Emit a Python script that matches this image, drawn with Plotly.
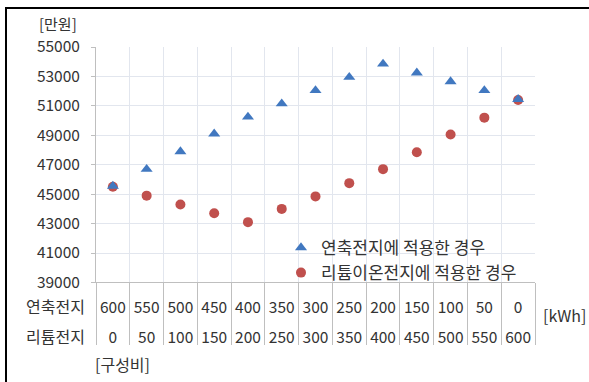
import plotly.graph_objects as go

# Capacity split between the two battery types [kWh]
lead_kwh = [600, 550, 500, 450, 400, 350, 300, 250, 200, 150, 100, 50, 0]
lithium_kwh = [0, 50, 100, 150, 200, 250, 300, 350, 400, 450, 500, 550, 600]

# Cost [만원]
lead_case_cost = [45550, 46700, 47900, 49100, 50250, 51150, 52050, 52950, 53850, 53250, 52650, 52050, 51450]
lithium_case_cost = [45500, 44900, 44300, 43700, 43100, 44000, 44850, 45750, 46700, 47850, 49050, 50200, 51400]

y_ticks = [39000, 41000, 43000, 45000, 47000, 49000, 51000, 53000, 55000]

lead_name = "연축전지에 적용한 경우"
lithium_name = "리튬이온전지에 적용한 경우"

W, H = 589, 382
ML, MR, MT, MB = 96, 54, 47, 0
PW, PH = W - ML - MR, H - MT - MB


def px_x(px):
    return (px - ML) / PW


def px_y(py):
    return (H - MB - py) / PH


FONT = "Noto Sans CJK KR, Noto Sans, sans-serif"
TXT = "#333333"
GRID = "#e2e6ee"
AXIS = "#bfbfbf"

n = len(lead_kwh)
pos = list(range(n))
x_range = [-0.5, n - 0.5]
bounds = [i - 0.5 for i in range(n + 1)]

fig = go.Figure()

fig.add_trace(go.Scatter(
    x=pos, y=lithium_case_cost, mode="markers", name=lithium_name,
    marker=dict(symbol="circle", size=10, color="#c0504d"),
    legendrank=2,
))
fig.add_trace(go.Scatter(
    x=pos, y=lead_case_cost, mode="markers", name=lead_name,
    marker=dict(symbol="triangle-up", size=10.5, color="#4178c0"),
    legendrank=1,
))
# carriers for the two label rows under the chart
for ax in ("x2", "x3"):
    fig.add_trace(go.Scatter(x=[0], y=[None], xaxis=ax, yaxis="y", mode="markers",
                             showlegend=False, hoverinfo="skip"))

y_bottom = px_y(289)

fig.update_layout(
    width=W, height=H,
    margin=dict(l=ML, r=MR, t=MT, b=MB),
    paper_bgcolor="white", plot_bgcolor="white",
    font=dict(family=FONT, size=15, color=TXT),
    showlegend=True,
    legend=dict(x=px_x(281), y=px_y(235), xanchor="left", yanchor="top",
                bgcolor="rgba(0,0,0,0)", font=dict(size=17, color=TXT),
                itemwidth=30, tracegroupgap=0),
    xaxis=dict(
        domain=[0, 1], range=x_range, tickmode="array", tickvals=bounds,
        showticklabels=False, showgrid=True, gridcolor=GRID, gridwidth=1,
        ticks="outside", ticklen=62, tickcolor=AXIS, tickwidth=1,
        showline=True, linecolor=AXIS, linewidth=1, zeroline=False,
    ),
    xaxis2=dict(
        overlaying="x", anchor="free", position=px_y(303), range=x_range,
        tickmode="array", tickvals=pos, ticktext=[str(v) for v in lead_kwh],
        showgrid=False, showline=False, zeroline=False, ticks="",
        tickfont=dict(size=15.5, color=TXT),
    ),
    xaxis3=dict(
        overlaying="x", anchor="free", position=px_y(334), range=x_range,
        tickmode="array", tickvals=pos, ticktext=[str(v) for v in lithium_kwh],
        showgrid=False, showline=False, zeroline=False, ticks="",
        tickfont=dict(size=15.5, color=TXT),
    ),
    yaxis=dict(
        domain=[y_bottom, 1], range=[39000, 55000], tickmode="array",
        tickvals=y_ticks, tickformat="d", showgrid=True, gridcolor=GRID,
        ticks="outside", ticklen=4, tickcolor=AXIS, ticklabelstandoff=8,
        showline=True, linecolor=AXIS, linewidth=1, zeroline=False,
        tickfont=dict(size=15.5, color=TXT),
    ),
)

annos = [
    ("[만원]", 58, 23, "center", 15),
    ("연축전지", 87, 313, "right", 16),
    ("리튬전지", 87, 344, "right", 16),
    ("[구성비]", 93, 373, "left", 16),
    ("[kWh]", 541, 322, "left", 16),
]
for text, x, y, anchor, size in annos:
    fig.add_annotation(text=text, xref="paper", yref="paper", x=px_x(x), y=px_y(y),
                       xanchor=anchor, yanchor="middle", showarrow=False,
                       font=dict(size=size, color=TXT))

# outer frame
fig.add_shape(type="rect", xref="paper", yref="paper",
              x0=px_x(6), x1=px_x(W + 20), y0=px_y(H + 20), y1=px_y(7),
              line=dict(color="black", width=2), fillcolor="rgba(0,0,0,0)", layer="above")

fig.write_html("out.html")
